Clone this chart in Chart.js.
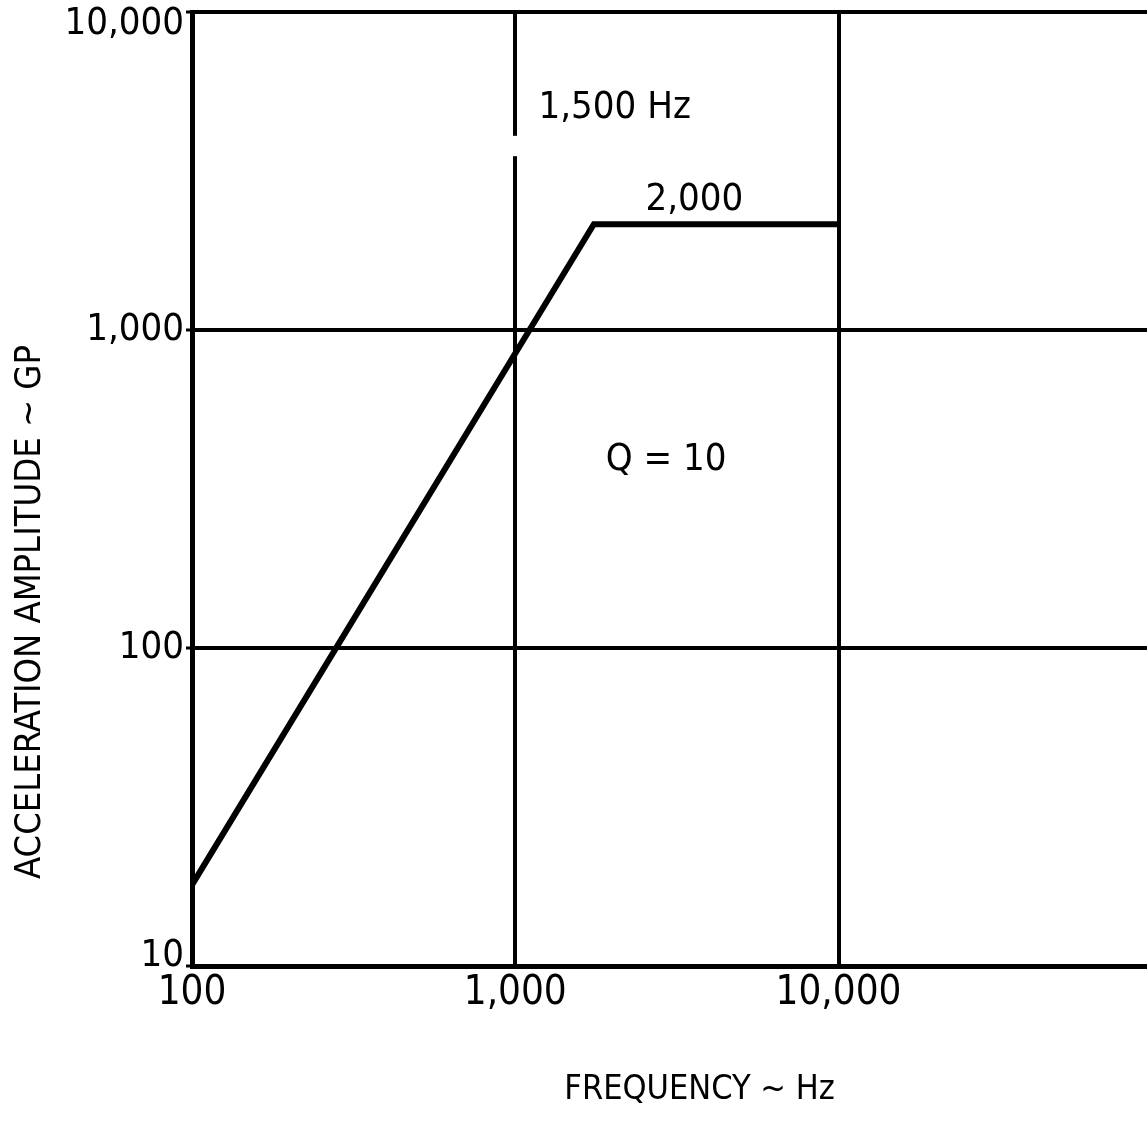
<!DOCTYPE html>
<html>
<head>
<meta charset="utf-8">
<script src="https://cdn.jsdelivr.net/npm/chart.js@4.4.1/dist/chart.umd.min.js"></script>
<style>
  html, body { margin: 0; padding: 0; background: #fff; overflow: hidden; }
  #wrap { width: 1147px; height: 1145px; }
</style>
</head>
<body>
<div id="wrap"><canvas id="myChart" width="1147" height="1145"></canvas></div>
<script>
// response spectrum
const frequency = [100, 1750, 10000];
const amplitude = [18, 2150, 2150];

const xTicks = [100, 1000, 10000];
const xTickLabels = ['100', '1,000', '10,000'];
const yTicks = [10, 100, 1000, 10000];
const yTickLabels = ['10', '100', '1,000', '10,000'];

const xTitle = 'FREQUENCY ~ Hz';
const yTitle = 'ACCELERATION AMPLITUDE ~ GP';

// notes placed in data coordinates
const notes = [
  { text: '1,500 Hz', x: 1180, y: 5000, align: 'left' },
  { text: '2,000', x: 3580, y: 2560, align: 'center' },
  { text: 'Q = 10', x: 2930, y: 390, align: 'center' }
];
// the 1,000 Hz grid line is broken behind the "1,500 Hz" note
const gridBreak = { x: 1000, from: 3520, to: 4080 };

const FONT = "'Liberation Sans Narrow', 'DejaVu Sans Condensed', 'Roboto Condensed', 'DejaVu Sans', sans-serif";

const notesPlugin = {
  id: 'notes',
  afterDraw(chart) {
    const ctx = chart.ctx;
    const xs = chart.scales.x;
    const ys = chart.scales.y;
    const area = chart.chartArea;
    ctx.save();

    // gap in grid line
    const gx = xs.getPixelForValue(gridBreak.x);
    ctx.fillStyle = '#fff';
    ctx.fillRect(gx - 4, ys.getPixelForValue(gridBreak.to), 8,
      ys.getPixelForValue(gridBreak.from) - ys.getPixelForValue(gridBreak.to));

    ctx.fillStyle = '#000';
    ctx.textBaseline = 'middle';
    ctx.font = '38px ' + FONT;
    notes.forEach(n => {
      ctx.textAlign = n.align;
      ctx.fillText(n.text, xs.getPixelForValue(n.x), ys.getPixelForValue(n.y));
    });

    // axis titles
    ctx.font = '34px ' + FONT;
    ctx.textAlign = 'center';
    ctx.fillText(xTitle, (area.left + area.right) / 2 + 30, area.bottom + 124);

    ctx.font = '36px ' + FONT;
    ctx.translate(31, area.bottom - 354);
    ctx.rotate(-Math.PI / 2);
    ctx.fillText(yTitle, 0, 0);
    ctx.restore();
  }
};

const config = {
  type: 'line',
  data: {
    datasets: [{
      label: 'Q = 10',
      data: frequency.map((f, i) => ({ x: f, y: amplitude[i] })),
      borderColor: '#000',
      backgroundColor: '#000',
      borderWidth: 6,
      pointRadius: 0,
      tension: 0,
      borderJoinStyle: 'miter'
    }]
  },
  options: {
    responsive: false,
    animation: false,
    layout: { padding: { top: 12, right: 0, bottom: 0, left: 0 } },
    plugins: {
      legend: { display: false },
      tooltip: { enabled: false }
    },
    scales: {
      x: {
        type: 'logarithmic',
        min: 100,
        max: 90000,
        afterBuildTicks: (scale) => { scale.ticks = xTicks.map(v => ({ value: v })); },
        afterFit: (scale) => {
          scale.height = 179;
          scale.paddingLeft = 0;
          scale.paddingRight = 0;
        },
        ticks: {
          autoSkip: false,
          maxRotation: 0,
          color: '#000',
          padding: 4,
          font: { family: FONT, size: 40 },
          callback: (v) => xTickLabels[xTicks.indexOf(v)]
        },
        grid: { color: '#000', lineWidth: 4, drawTicks: false },
        border: { display: true, color: '#000', width: 5 }
      },
      y: {
        type: 'logarithmic',
        min: 10,
        max: 10000,
        afterBuildTicks: (scale) => { scale.ticks = yTicks.map(v => ({ value: v })); },
        afterFit: (scale) => {
          scale.width = 192;
          scale.paddingTop = 0;
          scale.paddingBottom = 0;
        },
        ticks: {
          autoSkip: false,
          color: '#000',
          padding: 2,
          // end labels are nudged inside the frame with a blank second line
          font: (c) => {
            const v = c.tick && c.tick.value;
            const lh = v === 10000 ? 0.65 : v === 10 ? 0.5 : 1.2;
            return { family: FONT, size: 38, lineHeight: lh };
          },
          callback: (v) => {
            const lab = yTickLabels[yTicks.indexOf(v)];
            if (v === 10000) return ['', lab];
            if (v === 10) return [lab, ''];
            return lab;
          }
        },
        grid: { color: '#000', lineWidth: 4, tickLength: 6, tickColor: '#000', tickWidth: 3 },
        border: { display: true, color: '#000', width: 5 }
      }
    }
  },
  plugins: [notesPlugin]
};

new Chart(document.getElementById('myChart'), config);
</script>
</body>
</html>
